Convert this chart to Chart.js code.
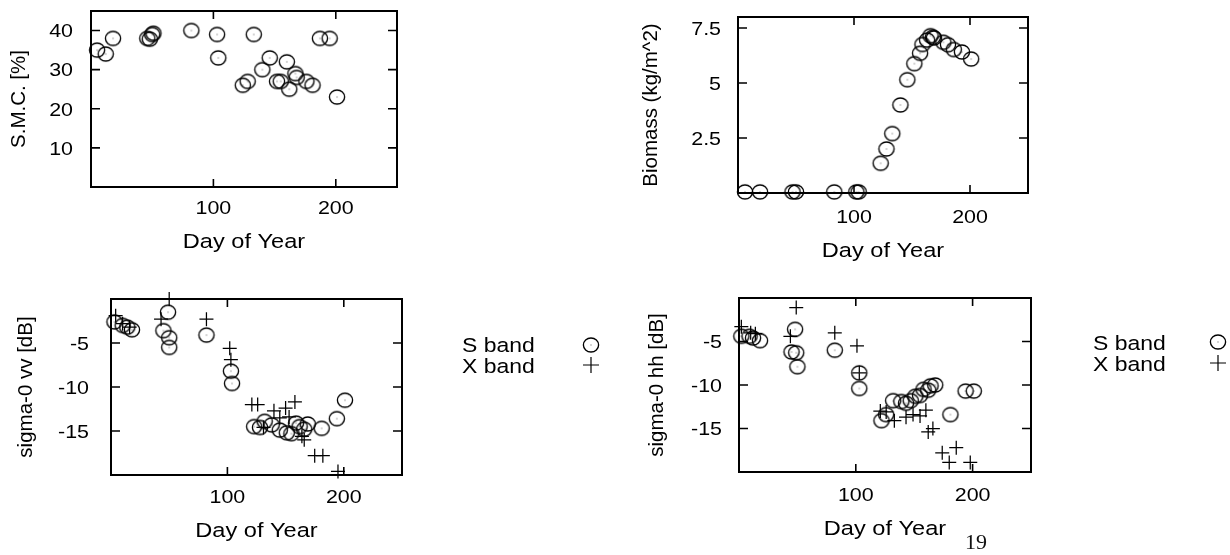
<!DOCTYPE html>
<html>
<head>
<meta charset="utf-8">
<script src="https://cdn.jsdelivr.net/npm/chart.js@4.4.0/dist/chart.umd.min.js"></script>
<style>
html,body{margin:0;padding:0;background:#fff;}
body{width:1230px;height:555px;position:relative;overflow:hidden;}
canvas{position:absolute;}
#pg{position:absolute;left:965px;top:529px;font-family:"Liberation Serif","DejaVu Serif",serif;font-size:22px;color:#111;line-height:26px;}
</style>
</head>
<body>
<canvas id="cSmc"></canvas>
<canvas id="cBio"></canvas>
<canvas id="cVV"></canvas>
<canvas id="cHH"></canvas>
<div id="pg">19</div>
<script>
// ---- tick values ----
const dayTicks = [100, 200];
const smcTicks = [10, 20, 30, 40];
const bioTicks = [2.5, 5, 7.5];
const sigTicks = [-15, -10, -5];

// ---- soil moisture content ----
const smcDay = [5, 12, 18, 46, 48, 50, 51, 82, 103, 104, 133, 124, 128, 140, 146, 152, 155, 160, 162, 167, 168, 176, 181, 187, 195, 201];
const smcVal = [35, 34, 38, 38, 37.8, 39, 39.3, 40, 39, 33, 39, 26, 27, 30, 33, 27, 27, 32, 25, 29, 28, 27, 26, 38, 38, 23];

// ---- biomass ----
const bioDay = [6, 19, 47, 50, 83, 102, 104, 123, 128, 133, 140, 146, 152, 157, 159, 163, 166, 168, 169, 177, 181, 186, 193, 201];
const bioVal = [0.05, 0.05, 0.05, 0.05, 0.05, 0.05, 0.05, 1.35, 2.0, 2.7, 4.0, 5.15, 5.88, 6.35, 6.75, 6.95, 7.15, 7.08, 7.05, 6.85, 6.74, 6.52, 6.41, 6.09];

// ---- sigma-0 vv ----
const vvSDay = [3, 10, 14, 18, 45, 49, 50, 50, 82, 103, 104, 123, 128, 132, 138, 145, 151, 155, 159, 162, 166, 169, 181, 194, 201];
const vvSVal = [-2.6, -3.0, -3.2, -3.5, -3.6, -1.5, -4.4, -5.5, -4.1, -8.2, -9.6, -14.5, -14.6, -13.9, -14.3, -14.9, -15.2, -15.3, -14.1, -14.5, -14.8, -14.2, -14.7, -13.6, -11.5];
const vvXDay = [4, 10, 16, 43, 50, 82, 102, 103, 121, 126, 131, 140, 145, 150, 153, 158, 164, 166, 175, 182, 195];
const vvXVal = [-1.9, -2.8, -3.2, -2.3, 0, -2.3, -5.6, -6.9, -12, -12, -14.6, -12.7, -13.5, -12.4, -13.4, -11.7, -15.6, -16.0, -17.8, -17.8, -19.6];

// ---- sigma-0 hh ----
const hhSDay = [2, 9, 12, 18, 45, 48, 49, 50, 82, 103, 103, 122, 126, 132, 139, 143, 147, 151, 155, 158, 162, 164, 168, 181, 194, 201];
const hhSVal = [-4.4, -4.4, -4.6, -4.9, -6.2, -3.6, -6.3, -7.9, -6.0, -8.6, -10.4, -14.1, -13.4, -11.8, -11.9, -12.1, -11.8, -11.3, -11.2, -10.5, -10.6, -10.1, -10.0, -13.4, -10.7, -10.7];
const hhXDay = [2, 10, 14, 44, 49, 82, 101, 103, 121, 126, 133, 143, 149, 155, 160, 162, 166, 174, 180, 186, 198];
const hhXVal = [-3.3, -4.0, -4.1, -4.4, -1.1, -4.0, -5.5, -8.6, -13.0, -13.1, -14.1, -13.7, -13.4, -13.55, -12.9, -15.4, -15.0, -17.8, -18.9, -17.2, -18.9];

const legendLabels = ['S band', 'X band'];
const xAxisTitle = 'Day of Year';

// ---- styling / layout ----
const INK = '#000';
const FONT = '"Liberation Sans", Arial, Helvetica, sans-serif';
const TICK_PX = 18, TICK_SX = 1.19;      // tick labels (horizontally widened like the scan)
const TITLE_PX = 20.5, TITLE_SX = 1.15;  // x-axis title
const LEG_PX = 20.5, LEG_SX = 1.12;      // legend text

function ringImage() {
  const c = document.createElement('canvas');
  c.width = 20; c.height = 20;
  const g = c.getContext('2d');
  g.strokeStyle = INK; g.lineWidth = 1.35;
  g.beginPath(); g.ellipse(10, 10, 7.6, 7.0, 0, 0, Math.PI * 2); g.stroke();
  g.fillStyle = '#555'; g.fillRect(9.5, 9.5, 1, 1);
  return c;
}
const RING = ringImage();

function pts(xs, ys) { return xs.map((v, i) => ({x: v, y: ys[i]})); }

function ringSet(label, xs, ys) {
  return {label, data: pts(xs, ys), pointStyle: RING, pointRadius: 7, showLine: false, clip: false};
}
function plusSet(label, xs, ys) {
  return {label, data: pts(xs, ys), pointStyle: 'cross', pointRadius: 7, pointBorderWidth: 1.25,
          borderColor: INK, pointBorderColor: INK, showLine: false, clip: false};
}

function wideText(ctx, text, x, y, px, sx, align) {
  ctx.save();
  ctx.translate(x, y);
  ctx.scale(sx, 1);
  ctx.font = px + 'px ' + FONT;
  ctx.textAlign = align;
  ctx.textBaseline = 'alphabetic';
  ctx.fillStyle = INK;
  ctx.fillText(text, 0, 0);
  ctx.restore();
}

const framePlugin = {
  id: 'frame',
  afterDatasetsDraw(chart, args, opts) {
    const {ctx, chartArea: a, scales: {x, y}} = chart;
    const o = opts.layout;
    ctx.save();
    ctx.strokeStyle = INK;
    ctx.lineWidth = 2;
    ctx.strokeRect(a.left, a.top, a.right - a.left, a.bottom - a.top);
    ctx.lineWidth = 1.6;
    ctx.beginPath();
    for (const t of x.ticks) {
      const px = x.getPixelForValue(t.value);
      ctx.moveTo(px, a.bottom); ctx.lineTo(px, a.bottom - 8);
      ctx.moveTo(px, a.top); ctx.lineTo(px, a.top + 8);
    }
    for (const t of y.ticks) {
      const py = y.getPixelForValue(t.value);
      ctx.moveTo(a.left, py); ctx.lineTo(a.left + 9, py);
      ctx.moveTo(a.right, py); ctx.lineTo(a.right - 9, py);
    }
    ctx.stroke();
    ctx.restore();

    // tick labels and x title
    for (const t of x.ticks) {
      wideText(ctx, String(t.value), x.getPixelForValue(t.value), a.bottom + o.xTickBase, TICK_PX, TICK_SX, 'center');
    }
    for (const t of y.ticks) {
      wideText(ctx, String(t.value), o.yTickRight - o.left, y.getPixelForValue(t.value) + 6.8, TICK_PX, TICK_SX, 'right');
    }
    wideText(ctx, xAxisTitle, (a.left + a.right) / 2, a.bottom + o.xTitleBase, TITLE_PX, TITLE_SX, 'center');

    const lg = opts.legend;
    if (lg) {
      const ox = o.left, oy = o.top;
      wideText(ctx, legendLabels[0], lg.textX - ox, lg.sBase - oy, LEG_PX, LEG_SX, 'left');
      wideText(ctx, legendLabels[1], lg.textX - ox, lg.xBase - oy, LEG_PX, LEG_SX, 'left');
      ctx.save();
      ctx.drawImage(RING, lg.markX - ox - 10, lg.sY - oy - 10);
      ctx.strokeStyle = INK;
      ctx.lineWidth = 1.2;
      ctx.beginPath();
      ctx.moveTo(lg.markX - ox - 8, lg.xY - oy); ctx.lineTo(lg.markX - ox + 8, lg.xY - oy);
      ctx.moveTo(lg.markX - ox, lg.xY - oy - 8); ctx.lineTo(lg.markX - ox, lg.xY - oy + 8);
      ctx.stroke();
      ctx.restore();
    }
  }
};

function makePanel(id, L, yLabel, yMin, yMax, yTicks, datasets, legend) {
  const cv = document.getElementById(id);
  cv.width = L.width; cv.height = L.height;
  cv.style.left = L.left + 'px'; cv.style.top = L.top + 'px';
  new Chart(cv, {
    type: 'scatter',
    data: {datasets},
    options: {
      responsive: false,
      animation: false,
      events: [],
      layout: {padding: {left: 0, top: L.area.t - L.top, right: L.width - (L.area.r - L.left), bottom: 0}},
      plugins: {legend: {display: false}, tooltip: {enabled: false}, frame: {legend: legend || null, layout: L}},
      scales: {
        x: {
          type: 'linear', min: 0, max: 250,
          afterBuildTicks: s => { s.ticks = dayTicks.map(v => ({value: v})); },
          afterFit: s => { s.height = L.top + L.height - L.area.b; },
          grid: {display: false, drawTicks: false},
          border: {display: false},
          ticks: {display: false},
          title: {display: false}
        },
        y: {
          type: 'linear', min: yMin, max: yMax,
          afterBuildTicks: s => { s.ticks = yTicks.map(v => ({value: v})); },
          afterFit: s => { s.width = L.area.l - L.left; },
          grid: {display: false, drawTicks: false},
          border: {display: false},
          ticks: {display: false},
          title: {display: true, text: yLabel, font: {family: FONT, size: 20.5}, color: INK, padding: {top: L.yTitlePad, bottom: 0}}
        }
      }
    },
    plugins: [framePlugin]
  });
}

const layoutSmc = {left: 0, top: -19, width: 620, height: 281, area: {l: 91, t: 11, r: 397, b: 187}, yTitlePad: 7, yTickRight: 73, xTickBase: 27.3, xTitleBase: 61.3};
const layoutBio = {left: 630, top: -13, width: 600, height: 281, area: {l: 738, t: 17, r: 1028, b: 193}, yTitlePad: 9, yTickRight: 721, xTickBase: 29.7, xTitleBase: 63.7};
const layoutVV  = {left: 0, top: 269, width: 620, height: 281, area: {l: 111, t: 299, r: 402, b: 475}, yTitlePad: 14.5, yTickRight: 89, xTickBase: 28.3, xTitleBase: 61.7};
const layoutHH  = {left: 630, top: 268, width: 600, height: 279, area: {l: 739, t: 298, r: 1031, b: 472}, yTitlePad: 15, yTickRight: 722, xTickBase: 29.3, xTitleBase: 62.7};

makePanel('cSmc', layoutSmc, 'S.M.C. [%]', 0, 45, smcTicks, [ringSet('S.M.C.', smcDay, smcVal)]);
makePanel('cBio', layoutBio, 'Biomass (kg/m^2)', 0, 8, bioTicks, [ringSet('Biomass', bioDay, bioVal)]);
makePanel('cVV', layoutVV, 'sigma-0 vv [dB]', -20, 0, sigTicks,
  [ringSet(legendLabels[0], vvSDay, vvSVal), plusSet(legendLabels[1], vvXDay, vvXVal)],
  {textX: 462, sBase: 352.3, xBase: 373, markX: 591, sY: 345, xY: 365});
makePanel('cHH', layoutHH, 'sigma-0 hh [dB]', -20, 0, sigTicks,
  [ringSet(legendLabels[0], hhSDay, hhSVal), plusSet(legendLabels[1], hhXDay, hhXVal)],
  {textX: 1093, sBase: 350, xBase: 371, markX: 1218, sY: 342, xY: 363});
</script>
</body>
</html>
